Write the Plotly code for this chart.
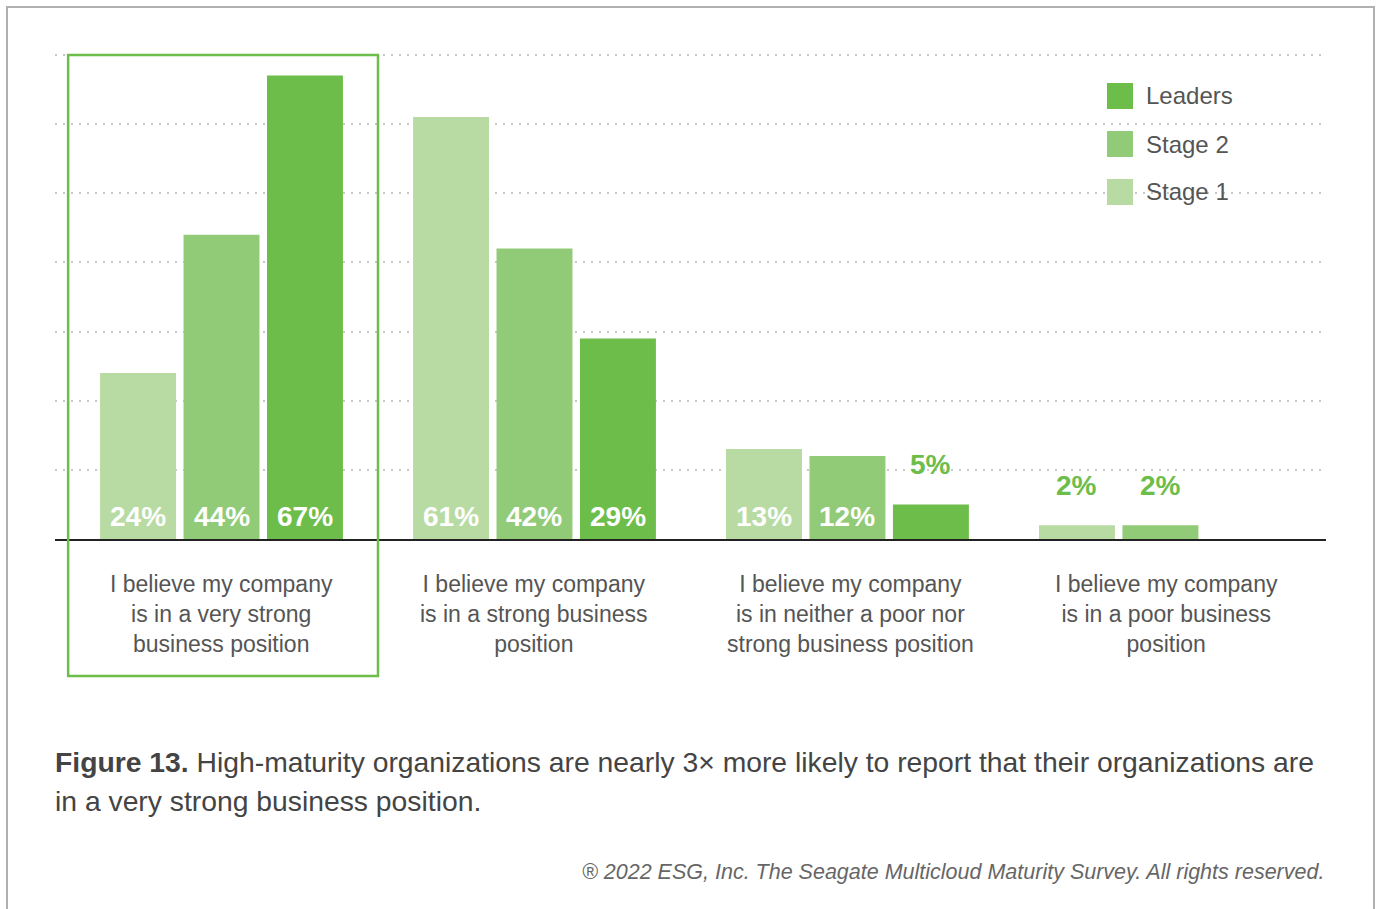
import plotly.graph_objects as go

# ---- data ----
categories = [
    "I believe my company<br>is in a very strong<br>business position",
    "I believe my company<br>is in a strong business<br>position",
    "I believe my company<br>is in neither a poor nor<br>strong business position",
    "I believe my company<br>is in a poor business<br>position",
]
series_names = ["Stage 1", "Stage 2", "Leaders"]
stage1 = [24, 61, 13, 2]
stage2 = [44, 42, 12, 2]
leaders = [67, 29, 5, None]
series_values = [stage1, stage2, leaders]
colors = ["#b8dba3", "#92cb77", "#6dbd4b"]

caption_bold = "Figure 13."
caption_line1 = " High-maturity organizations are nearly 3× more likely to report that their organizations are"
caption_line2 = "in a very strong business position."
footer = "® 2022 ESG, Inc. The Seagate Multicloud Maturity Survey. All rights reserved."

# ---- layout geometry ----
FW, FH = 1377, 909
L, R, T, B = 55, 51, 50, 370
PW, PH = FW - L - R, FH - T - B
XR = [-0.532, 3.529]
YR = [0, 70.7]
BARGAP = 0.2
FONT = "Liberation Sans, Arial, Helvetica, sans-serif"


def px_x(p):
    return (p - L) / PW


def px_y(p):
    return (FH - B - p) / PH


def data_x_to_paper(x):
    return (x - XR[0]) / (XR[1] - XR[0])


xs = list(range(len(categories)))
fig = go.Figure()
for name, vals, col in zip(series_names, series_values, colors):
    fig.add_trace(go.Bar(x=xs, y=vals, name=name, marker=dict(color=col, line=dict(width=0)),
                         showlegend=False, hoverinfo="skip"))

annotations = []
nser = len(series_values)
slot = (1 - BARGAP) / nser
for j, vals in enumerate(series_values):
    for i, v in enumerate(vals):
        if v is None:
            continue
        bx = i + (j - (nser - 1) / 2) * slot
        if v >= 10:
            annotations.append(dict(x=bx, y=0, xref="x", yref="y", text=f"<b>{v}%</b>", showarrow=False,
                                    yanchor="bottom", yshift=5, font=dict(family=FONT, size=28, color="white")))
        else:
            annotations.append(dict(x=bx, y=v, xref="x", yref="y", text=f"<b>{v}%</b>", showarrow=False,
                                    yanchor="bottom", yshift=22, font=dict(family=FONT, size=28, color=colors[2])))

label_xshift = [0, 0, 3, 6]
for i, c in enumerate(categories):
    annotations.append(dict(x=i, y=0, xref="x", yref="y", text=c, showarrow=False, yanchor="top",
                            yshift=-30, xshift=label_xshift[i], align="center",
                            font=dict(family=FONT, size=23, color="#555555")))

# legend (custom, larger swatches)
shapes = []
legend_rows = [(2, 96), (1, 144), (0, 192)]
for k, yc in legend_rows:
    shapes.append(dict(type="rect", xref="paper", yref="paper", x0=px_x(1107), x1=px_x(1133),
                       y0=px_y(yc + 13), y1=px_y(yc - 13), fillcolor=colors[k], line=dict(width=0)))
    annotations.append(dict(x=px_x(1144), y=px_y(yc), xref="paper", yref="paper", text=series_names[k],
                            showarrow=False, xanchor="left", yanchor="middle",
                            font=dict(family=FONT, size=24, color="#555555")))

# caption
annotations.append(dict(x=px_x(53), y=px_y(762), xref="paper", yref="paper",
                        text=f"<b>{caption_bold}</b>{caption_line1}", showarrow=False,
                        xanchor="left", yanchor="middle", font=dict(family=FONT, size=28.3, color="#444444")))
annotations.append(dict(x=px_x(53), y=px_y(801), xref="paper", yref="paper",
                        text=caption_line2, showarrow=False,
                        xanchor="left", yanchor="middle", font=dict(family=FONT, size=28.3, color="#444444")))
annotations.append(dict(x=px_x(1326), y=px_y(872), xref="paper", yref="paper",
                        text=f"<i>{footer}</i>", showarrow=False,
                        xanchor="right", yanchor="middle", font=dict(family=FONT, size=21.5, color="#666666")))

# highlight rectangle around first group
shapes.append(dict(type="rect", xref="paper", yref="paper",
                   x0=data_x_to_paper(-0.49), x1=data_x_to_paper(0.5),
                   y0=px_y(676), y1=px_y(55), line=dict(color="#6dbd4b", width=2.5), fillcolor="rgba(0,0,0,0)"))
# outer border
shapes.append(dict(type="rect", xref="paper", yref="paper", x0=px_x(7), x1=px_x(1374),
                   y0=px_y(940), y1=px_y(7), line=dict(color="#b0b0b0", width=2), fillcolor="rgba(0,0,0,0)"))

fig.update_layout(
    width=FW, height=FH, autosize=False,
    margin=dict(l=L, r=R, t=T, b=B, pad=0),
    paper_bgcolor="white", plot_bgcolor="white",
    barmode="group", bargap=BARGAP, bargroupgap=0.09,
    xaxis=dict(range=XR, showgrid=False, zeroline=False, showticklabels=False, ticks="",
               showline=True, linecolor="#222222", linewidth=1.5, fixedrange=True),
    yaxis=dict(range=YR, tickvals=[10, 20, 30, 40, 50, 60, 70], showticklabels=False, ticks="",
               showgrid=True, gridcolor="#c8c8c8", gridwidth=2, griddash="2px,6px",
               zeroline=False, showline=False, fixedrange=True),
    annotations=annotations, shapes=shapes,
    font=dict(family=FONT),
)

fig.write_html("out.html", config={"displayModeBar": False, "staticPlot": True},
               post_script="document.body.style.margin='0';document.body.style.overflow='hidden';")
